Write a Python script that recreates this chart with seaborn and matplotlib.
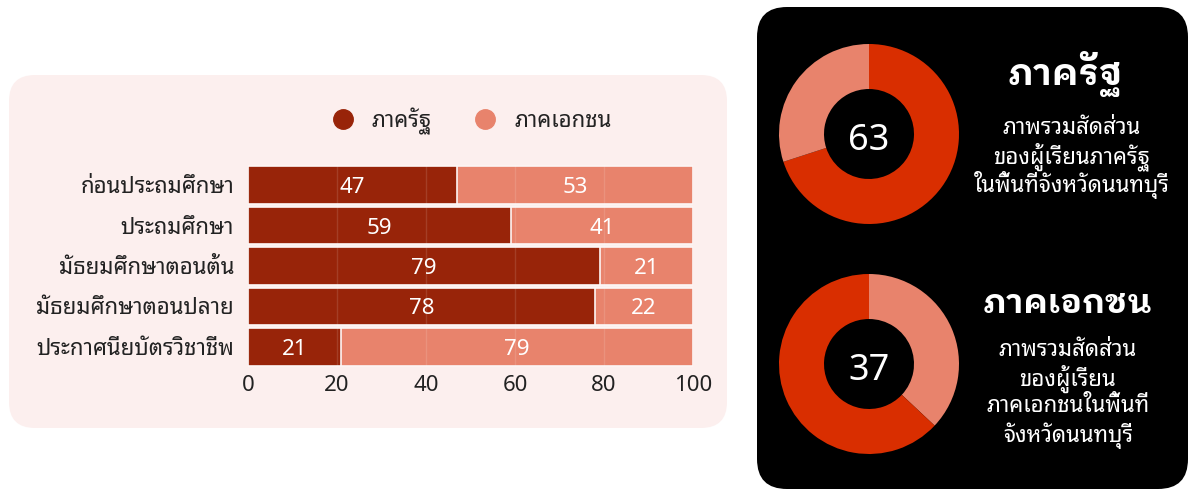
import numpy as np
import pandas as pd
import matplotlib
matplotlib.use("Agg")
import matplotlib.pyplot as plt
import seaborn as sns
from matplotlib.patches import FancyBboxPatch
from matplotlib.lines import Line2D

# bar chart data
levels = ["ก่อนประถมศึกษา", "ประถมศึกษา", "มัธยมศึกษาตอนต้น",
          "มัธยมศึกษาตอนปลาย", "ประกาศนียบัตรวิชาชีพ"]
state = [47, 59, 79, 78, 21]
private = [53, 41, 21, 22, 79]
x_ticks = [0, 20, 40, 60, 80, 100]
series_names = ["ภาครัฐ", "ภาคเอกชน"]

# donut data (shares as drawn, clockwise from the top)
donut_state = [70, 30]
donut_private = [37, 63]
donut_numbers = ["63", "37"]
titles = ["ภาครัฐ", "ภาคเอกชน"]
sub_state = ["ภาพรวมสัดส่วน", "ของผู้เรียนภาครัฐ", "ในพื้นที่จังหวัดนนทบุรี"]
sub_private = ["ภาพรวมสัดส่วน", "ของผู้เรียน", "ภาคเอกชนในพื้นที่", "จังหวัดนนทบุรี"]

dark = "#982409"
salmon = "#e8836c"
red = "#d92e00"
pink = "#fcefee"
txt = "#222222"

sns.set_theme(style="white")
plt.rcParams['font.family'] = ['Noto Sans Thai Looped', 'DejaVu Sans']
bold_fam = ['IBM Plex Sans Thai Looped', 'Noto Sans Thai Looped', 'DejaVu Sans']

W, H = 1189, 490
fig = plt.figure(figsize=(W / 100, H / 100), dpi=100)
fig.patch.set_facecolor("white")

# background panels in pixel coordinates
bg = fig.add_axes([0, 0, 1, 1])
bg.set_xlim(0, W)
bg.set_ylim(H, 0)
bg.axis("off")
bg.add_patch(FancyBboxPatch((9, 75), 718, 353, boxstyle="round,pad=0,rounding_size=26",
                            fc=pink, ec="none"))
bg.add_patch(FancyBboxPatch((757, 7), 431, 482, boxstyle="round,pad=0,rounding_size=30",
                            fc="black", ec="none"))

# stacked bars
df = pd.DataFrame({"level": levels, "state": state, "private": private})
df["total"] = df["state"] + df["private"]

ax = fig.add_axes([248 / W, 1 - 367 / H, 445 / W, 202 / H])
ax.set_facecolor("none")
sns.barplot(data=df, x="total", y="level", orient="h", color=salmon, saturation=1,
            width=0.93, edgecolor="#fdf6f5", linewidth=1.2, ax=ax)
sns.barplot(data=df, x="state", y="level", orient="h", color=dark, saturation=1,
            width=0.93, edgecolor="#fdf6f5", linewidth=1.2, ax=ax)
ax.set_xlim(0, 100)
ax.set_ylim(4.5, -0.5)
ax.set_xticks(x_ticks)
ax.set_xlabel("")
ax.set_ylabel("")
ax.set_axisbelow(False)
ax.grid(axis="x", color="white", alpha=0.12, lw=1)
ax.grid(axis="y", visible=False)
for s in ax.spines.values():
    s.set_visible(False)
ax.tick_params(axis="y", length=0, pad=10, labelsize=16, labelcolor=txt)
ax.tick_params(axis="x", length=0, pad=6, labelsize=16, labelcolor=txt)

for i, (a, b) in enumerate(zip(state, private)):
    ax.text(a / 2, i, str(a), ha="center", va="center_baseline", color="white", fontsize=16)
    ax.text(a + b / 2, i, str(b), ha="center", va="center_baseline", color="white", fontsize=16)

handles = [Line2D([], [], marker="o", ls="", markersize=14, color=c) for c in (dark, salmon)]
leg = fig.legend(handles, series_names, loc="center", bbox_to_anchor=(0.392, 0.753),
                 ncol=2, frameon=False, fontsize=16, handletextpad=0.3, columnspacing=1.4)
for t in leg.get_texts():
    t.set_color(txt)

# donuts
def donut(rect, shares, colors, number):
    dax = fig.add_axes(rect)
    dax.pie(shares, colors=colors, startangle=90, counterclock=False,
            wedgeprops=dict(width=0.5, edgecolor="none"))
    dax.set_xlim(-1, 1)
    dax.set_ylim(-1, 1)
    dax.set_aspect("equal")
    dax.axis("off")
    dax.text(0, -0.03, number, ha="center", va="center_baseline", color="white", fontsize=26)

donut([779 / W, 1 - 224 / H, 180 / W, 180 / H], donut_state, [red, salmon], donut_numbers[0])
donut([779 / W, 1 - 454 / H, 180 / W, 180 / H], donut_private, [salmon, red], donut_numbers[1])

fig.text(1065 / W, 1 - 74 / H, titles[0], ha="center", va="center", color="white",
         fontsize=26, fontweight="bold", family=bold_fam)
for k, line in enumerate(sub_state):
    fig.text(1072 / W, 1 - (128 + 28.5 * k) / H, line, ha="center", va="center",
             color="white", fontsize=16)

fig.text(1067 / W, 1 - 304 / H, titles[1], ha="center", va="center", color="white",
         fontsize=24, fontweight="bold", family=bold_fam)
for k, line in enumerate(sub_private):
    fig.text(1068 / W, 1 - (350 + 28.5 * k) / H, line, ha="center", va="center",
             color="white", fontsize=16)

fig.savefig("out.png", dpi=100)
